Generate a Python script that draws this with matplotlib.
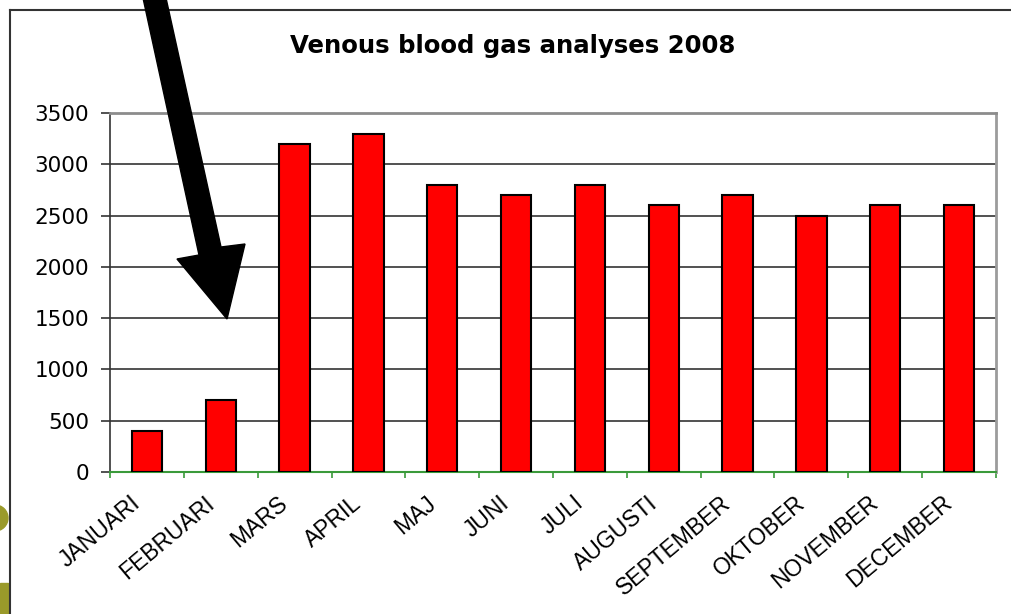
import matplotlib.pyplot as plt
from matplotlib.patches import Polygon, Ellipse, Rectangle
from matplotlib.lines import Line2D
from matplotlib.ticker import MultipleLocator
from matplotlib.transforms import ScaledTranslation

months = ['JANUARI', 'FEBRUARI', 'MARS', 'APRIL', 'MAJ', 'JUNI', 'JULI',
          'AUGUSTI', 'SEPTEMBER', 'OKTOBER', 'NOVEMBER', 'DECEMBER']
analyses = [400, 700, 3200, 3300, 2800, 2700, 2800, 2600, 2700, 2500, 2600, 2600]

W, H = 1011, 614
plt.rcParams['font.family'] = ['DejaVu Sans']

fig = plt.figure(figsize=(W / 100, H / 100), dpi=100)
fig.patch.set_facecolor('white')


def px(x, y):
    # pixel coords (top-left origin) -> figure fraction
    return (x / W, 1 - y / H)


ax = fig.add_axes([110 / W, 1 - 472 / H, 886 / W, 359 / H])
x = range(len(months))
ax.bar(x, analyses, width=0.41, color='#ff0000', edgecolor='black', linewidth=1.5, zorder=3)

ax.set_xlim(-0.5, len(months) - 0.5)
ax.set_ylim(0, 3500)
ax.yaxis.set_major_locator(MultipleLocator(500))
ax.yaxis.grid(True, color='#333333', linewidth=1.2, zorder=0)
ax.set_axisbelow(True)

# category labels at centres, ticks at boundaries
ax.set_xticks([i - 0.5 for i in range(len(months) + 1)], minor=False)
ax.set_xticklabels([])
ax.set_xticks(list(x), minor=True)
ax.set_xticklabels(months, minor=True, rotation=40, ha='right', va='top',
                   rotation_mode='anchor', fontsize=16.5, family='Liberation Sans')
ax.tick_params(axis='x', which='minor', length=0, pad=14)
ax.tick_params(axis='x', which='major', length=4.3, color='#3a9a3a', width=1.2, direction='out')
ax.tick_params(axis='y', length=6.5, width=1.2, color='#333333', labelsize=15.5, pad=8.5)
shift = ScaledTranslation(-17 / 100, 0, fig.dpi_scale_trans)
for lbl in ax.get_xticklabels(minor=True):
    lbl.set_transform(lbl.get_transform() + shift)

ax.spines['bottom'].set_color('#3a9a3a')
ax.spines['bottom'].set_linewidth(1.5)
ax.spines['left'].set_color('#333333')
ax.spines['left'].set_linewidth(1.2)
ax.spines['top'].set_color('#8c8c8c')
ax.spines['top'].set_linewidth(2)
ax.spines['right'].set_color('#9c9c9c')
ax.spines['right'].set_linewidth(2)

fig.text(513 / W, 1 - 46 / H, 'Venous blood gas analyses 2008', ha='center', va='center',
         fontsize=17.6, fontweight='bold')

# outer frame
fig.add_artist(Line2D([10 / W, 1.0], [1 - 10 / H] * 2, color='#333333', linewidth=1.5))
fig.add_artist(Line2D([10 / W] * 2, [1 - 10 / H, 0], color='#333333', linewidth=1.5))

# olive decoration at bottom-left edge
fig.add_artist(Ellipse(px(-5, 518), 26 / W, 26 / H, color='#9a9a2a'))
fig.add_artist(Rectangle(px(0, 614), 8 / W, 31 / H, color='#9a9a2a'))

# big black arrow
arrow_px = [(143, -2), (166, -2), (221, 247), (245, 244), (227, 319), (177, 259), (199, 255)]
fig.add_artist(Polygon([px(a, b) for a, b in arrow_px], closed=True, color='black', zorder=10))

fig.savefig('out.png', dpi=100)
